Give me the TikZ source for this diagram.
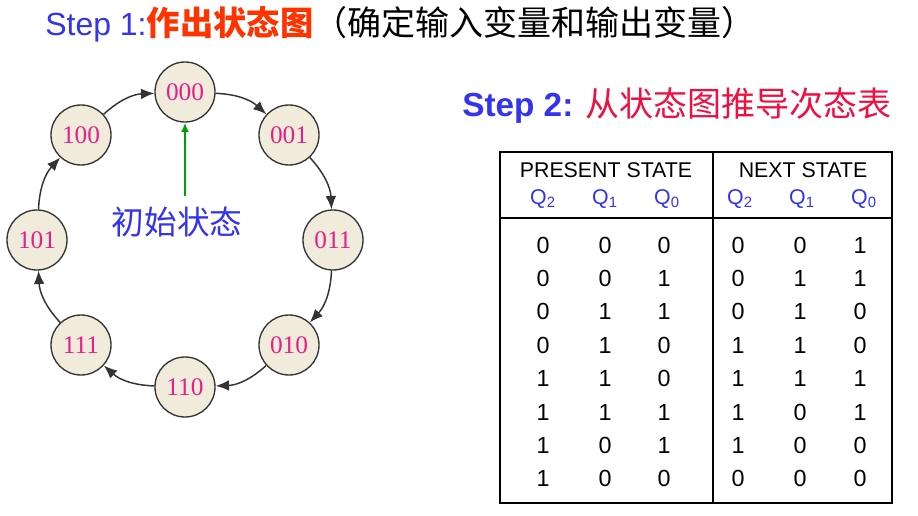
\documentclass[tikz,border=0pt]{standalone}
\usepackage{fontspec}
\setmainfont{Liberation Sans}
\newfontfamily\cjk{Noto Sans CJK SC}
\newfontfamily\serifnum{Liberation Serif}
\usetikzlibrary{arrows.meta}
\definecolor{blueT}{HTML}{3333F0}
\definecolor{redT}{HTML}{FF3300}
\definecolor{redB}{HTML}{EE1040}
\definecolor{pinkT}{HTML}{E5208A}
\definecolor{beige}{HTML}{F0EBDA}
\definecolor{edge}{HTML}{333333}
\definecolor{greenA}{HTML}{00A000}
\begin{document}
\begin{tikzpicture}[x=0.75pt,y=-0.75pt,
  state/.style={circle,draw=edge,fill=beige,line width=1pt,minimum size=45pt,inner sep=0pt,
    text=pinkT,font=\serifnum\fontsize{19}{21}\selectfont},
  trans/.style={draw=edge,line width=1.1pt,-{Latex[length=10pt,width=8pt]}},
  hdr/.style={font=\fontsize{16}{18}\selectfont,inner sep=0pt},
  qlab/.style={font=\fontsize{16}{18}\selectfont,text=blueT,inner sep=0pt},
  cell/.style={font=\fontsize{17.5}{19}\selectfont,inner sep=0pt}]
\path[use as bounding box] (0,0) rectangle (918,516);

% title lines
\node[anchor=base west,inner sep=0pt,font=\fontsize{24}{28}\selectfont] (t1) at (45,36)
  {{\color{blueT}Step 1:}{\cjk\fontsize{25}{28}\selectfont\bfseries\color{redT}作出状态图}{\cjk\fontsize{25.5}{28}\selectfont （确定输入变量和输出变量）}};
\node[anchor=base west,inner sep=0pt,font=\fontsize{25}{28}\selectfont] (t2) at (462,117)
  {{\bfseries\color{blueT}Step 2: }{\cjk\fontsize{25.5}{28}\selectfont\color{redB}从状态图推导次态表}};

% state diagram
\node[state] (s000) at (185,92) {000};
\node[state] (s001) at (289,135) {001};
\node[state] (s011) at (333,240) {011};
\node[state] (s010) at (289,345) {010};
\node[state] (s110) at (185,387) {110};
\node[state] (s111) at (81,345) {111};
\node[state] (s101) at (37,240) {101};
\node[state] (s100) at (81,135) {100};

\draw[trans] (s000) to[bend left=20] (s001);
\draw[trans] (s001) to[bend left=20] (s011);
\draw[trans] (s011) to[bend left=20] (s010);
\draw[trans] (s010) to[bend left=20] (s110);
\draw[trans] (s110) to[bend left=20] (s111);
\draw[trans] (s111) to[bend left=20] (s101);
\draw[trans] (s101) to[bend left=20] (s100);
\draw[trans] (s100) to[bend left=20] (s000);

\node[font=\cjk\fontsize{24.5}{28}\selectfont,text=blueT,inner sep=0pt] (init) at (177,222) {初始状态};
\coordinate (gstart) at (185,196);
\draw[greenA,line width=1.8pt,-{Latex[length=7pt,width=6pt]}] (gstart) -- (s000.south);

% table
\draw[line width=2.2pt] (500,152) rectangle (892,503);
\draw[line width=2.2pt] (500,218) -- (892,218);
\draw[line width=1pt] (713,152) -- (713,503);

\node[hdr] (hp) at (606,170) {PRESENT STATE};
\node[hdr] (hn) at (803,170) {NEXT STATE};
\node[qlab] (q2a) at (543,199) {Q\textsubscript{2}};
\node[qlab] (q1a) at (605,199) {Q\textsubscript{1}};
\node[qlab] (q0a) at (667,199) {Q\textsubscript{0}};
\node[qlab] (q2b) at (740,199) {Q\textsubscript{2}};
\node[qlab] (q1b) at (802,199) {Q\textsubscript{1}};
\node[qlab] (q0b) at (864,199) {Q\textsubscript{0}};

\foreach \a/\b/\c/\d/\e/\f [count=\r] in
  {0/0/0/0/0/1, 0/0/1/0/1/1, 0/1/1/0/1/0, 0/1/0/1/1/0,
   1/1/0/1/1/1, 1/1/1/1/0/1, 1/0/1/1/0/0, 1/0/0/0/0/0}{
  \pgfmathsetmacro{\yy}{245+(\r-1)*33.4}
  \node[cell] (c\r a) at (543,\yy) {\a};
  \node[cell] (c\r b) at (605,\yy) {\b};
  \node[cell] (c\r c) at (664,\yy) {\c};
  \node[cell] (c\r d) at (738,\yy) {\d};
  \node[cell] (c\r e) at (800,\yy) {\e};
  \node[cell] (c\r f) at (860,\yy) {\f};
}
\end{tikzpicture}
\end{document}
